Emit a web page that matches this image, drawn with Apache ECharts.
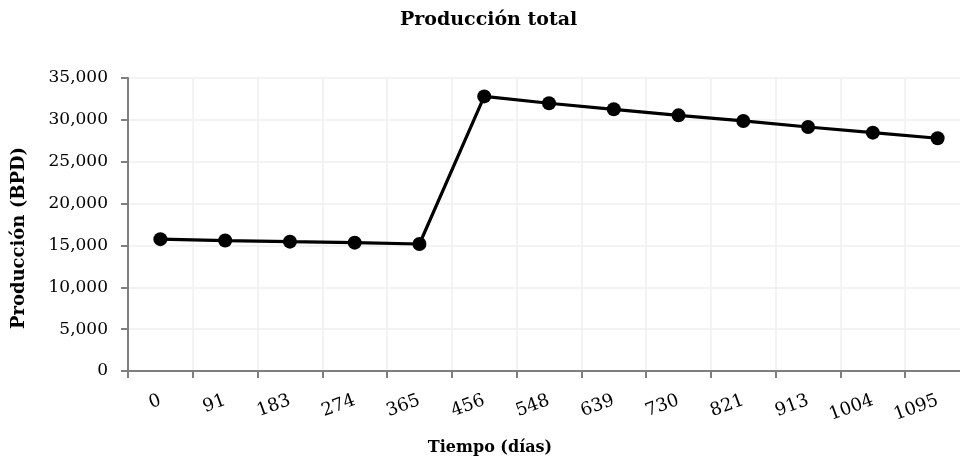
<!DOCTYPE html>
<html>
<head>
<meta charset="utf-8">
<script src="https://cdn.jsdelivr.net/npm/echarts@6/dist/echarts.min.js"></script>
<style>
  html, body { margin: 0; padding: 0; background: #fff; }
  #chart { width: 960px; height: 461px; }
</style>
</head>
<body>
<div id="chart"></div>
<script>
// tiempo en días
var dias = ['0', '91', '183', '274', '365', '456', '548', '639', '730', '821', '913', '1004', '1095'];
// producción total, BPD
var produccion = [15750, 15580, 15450, 15330, 15170, 32800, 31980, 31260, 30540, 29870, 29150, 28470, 27800];

var serif = '"DejaVu Serif", "Liberation Serif", serif';

var chart = echarts.init(document.getElementById('chart'));
var option = {
    backgroundColor: '#fff',
    animation: false,
    title: {
        text: 'Producción total',
        left: 400,
        top: 11,
        padding: [0, 0, 0, 0],
        textStyle: {
            fontFamily: serif,
            fontWeight: 'bold',
            fontSize: 19,
            color: '#000'
        }
    },
    grid: {
        left: 128,
        width: 842,
        top: 78,
        bottom: 90,
        containLabel: false,
        outerBoundsMode: 'none'
    },
    xAxis: {
        type: 'category',
        data: dias,
        boundaryGap: true,
        name: 'Tiempo (días)',
        nameLocation: 'middle',
        nameGap: 69,
        nameTextStyle: {
            fontFamily: serif,
            fontWeight: 'bold',
            fontSize: 16,
            color: '#000',
            padding: [0, 118, 0, 0]
        },
        axisLine: { lineStyle: { color: '#7f7f7f', width: 2 } },
        axisTick: { show: true, alignWithLabel: false, length: 7, lineStyle: { color: '#7f7f7f', width: 2 } },
        axisLabel: {
            rotate: 20,
            margin: 29,
            fontFamily: serif,
            fontSize: 18,
            color: '#000'
        },
        splitLine: { show: true, lineStyle: { color: '#efefef', width: 1.5 } }
    },
    yAxis: {
        type: 'value',
        min: 0,
        max: 35000,
        interval: 5000,
        name: 'Producción (BPD)',
        nameLocation: 'middle',
        nameGap: 100,
        nameTextStyle: {
            fontFamily: serif,
            fontWeight: 'bold',
            fontSize: 18,
            color: '#000',
            padding: [0, 27, 0, 0]
        },
        axisLine: { show: true, lineStyle: { color: '#7f7f7f', width: 2 } },
        axisTick: { show: true, length: 7, lineStyle: { color: '#7f7f7f', width: 2 } },
        axisLabel: {
            margin: 20,
            fontFamily: serif,
            fontSize: 17,
            color: '#000',
            formatter: function (v) { return echarts.format.addCommas(v); }
        },
        splitLine: { show: true, lineStyle: { color: '#efefef', width: 1.5 } }
    },
    series: [{
        name: 'Producción total',
        type: 'line',
        data: produccion,
        symbol: 'circle',
        symbolSize: 14,
        itemStyle: { color: '#000' },
        lineStyle: { color: '#000', width: 3.2 }
    }]
};

chart.setOption(option);
window.onresize = function () {
    chart.resize();
};
</script>
</body>
</html>
